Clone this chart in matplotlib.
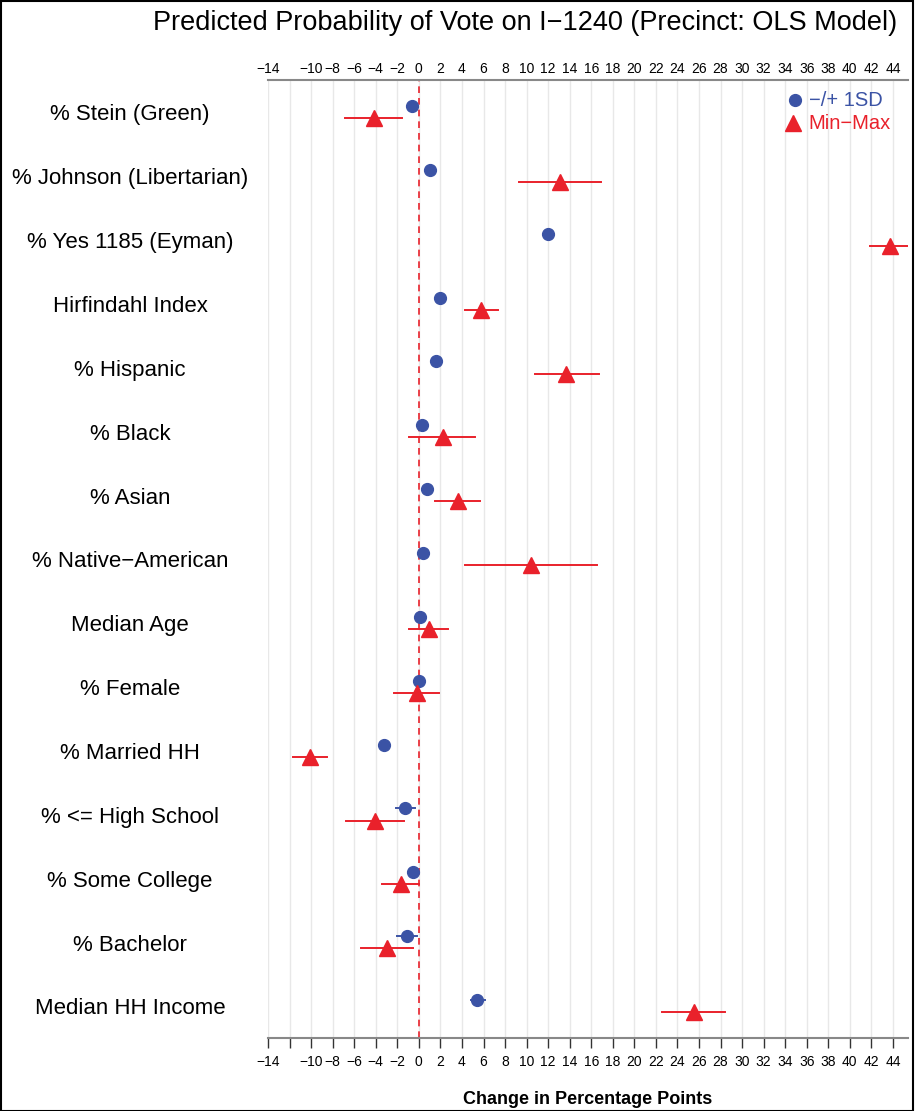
import matplotlib
matplotlib.use('Agg')
import matplotlib.pyplot as plt
from matplotlib.patches import Rectangle

plt.rcParams['font.family'] = ['Liberation Sans', 'DejaVu Sans']

variables = ['% Stein (Green)', '% Johnson (Libertarian)', '% Yes 1185 (Eyman)',
             'Hirfindahl Index', '% Hispanic', '% Black', '% Asian',
             '% Native\u2212American', 'Median Age', '% Female', '% Married HH',
             '% <= High School', '% Some College', '% Bachelor', 'Median HH Income']

# -/+ 1 SD change: estimate, lower, upper
sd_est = [-0.6, 1.0, 12.0, 2.0, 1.6, 0.3, 0.8, 0.4, 0.1, 0.0, -3.2, -1.3, -0.5, -1.1, 5.4]
sd_lo = [-0.8, 0.8, 11.8, 1.5, 1.4, 0.1, 0.6, 0.2, -0.1, -0.2, -3.5, -2.1, -0.7, -2.0, 4.8]
sd_hi = [-0.4, 1.2, 12.2, 2.5, 1.8, 0.5, 1.0, 0.6, 0.3, 0.2, -2.9, -0.4, -0.3, -0.2, 6.1]

# min-max change: estimate, lower, upper
mm_est = [-4.2, 13.1, 43.7, 5.8, 13.7, 2.2, 3.6, 10.4, 0.9, -0.2, -10.1, -4.1, -1.7, -3.0, 25.5]
mm_lo = [-6.9, 9.3, 41.9, 4.3, 10.8, -0.9, 1.5, 4.3, -0.9, -2.3, -11.7, -6.8, -3.4, -5.4, 22.6]
mm_hi = [-1.6, 16.9, 45.5, 7.3, 16.7, 5.2, 5.7, 16.5, 2.7, 1.9, -8.5, -1.4, 0.0, -0.5, 28.4]

ticks = list(range(-14, 46, 2))
tick_labels = ['' if t == -12 else str(t).replace('-', '\u2212') for t in ticks]

blue = '#3B53A5'
red = '#E9212B'

fig = plt.figure(figsize=(9.15, 11.11), dpi=100)
fig.patches.append(Rectangle((0.001, 0.0), 0.997, 0.999, transform=fig.transFigure,
                             fill=False, edgecolor='black', linewidth=1.5))

ax = fig.add_axes([0.2929, 0.0657, 0.6995, 0.8623])
rows = list(range(1, len(variables) + 1))

for t in ticks:
    ax.axvline(t, color='#E8E8E8', linewidth=1.0, zorder=0)
ax.axvline(0, color=red, linestyle=(0, (4, 3)), linewidth=1.2, zorder=1)

# interval bars: sd just above each row, min-max just below
for i, r in enumerate(rows):
    ax.plot([sd_lo[i], sd_hi[i]], [r - 0.11, r - 0.11], color=blue, linewidth=1.4, zorder=2)
    ax.plot([mm_lo[i], mm_hi[i]], [r + 0.08, r + 0.08], color=red, linewidth=1.4, zorder=2)

ax.plot(sd_est, [r - 0.11 for r in rows], 'o', color=blue, markersize=8.5,
        linestyle='none', zorder=3)
ax.plot(mm_est, [r + 0.08 for r in rows], '^', color=red, markersize=11,
        linestyle='none', zorder=3)

ax.set_xlim(-14, 45.4)
ax.set_ylim(15.485, 0.483)
ax.set_yticks([])
for side in ['left', 'right']:
    ax.spines[side].set_visible(False)
for side in ['top', 'bottom']:
    ax.spines[side].set_color('#888888')
    ax.spines[side].set_linewidth(1.5)

ax.set_xticks(ticks)
ax.set_xticklabels(tick_labels, fontsize=10)
ax.tick_params(axis='x', length=7, width=1, color='#333333', pad=5)
ax.set_xlabel('Change in Percentage Points', fontsize=13, fontweight='bold', labelpad=16)

top = ax.secondary_xaxis('top')
top.set_xticks(ticks)
top.set_xticklabels(tick_labels, fontsize=10)
top.tick_params(axis='x', length=0, pad=3)
top.spines['top'].set_visible(False)

# row labels on the left
x_lab = (130 / 915 - 0.2929) / 0.6995
for name, r in zip(variables, rows):
    ax.text(x_lab, r + 0.03, name, transform=ax.get_yaxis_transform(), fontsize=16,
            ha='center', va='center', clip_on=False)

fig.text(0.574, 0.979, 'Predicted Probability of Vote on I\u22121240 (Precinct: OLS Model)',
         fontsize=19.5, ha='center', va='center')

# legend
ax.plot([0.823], [0.979], 'o', color=blue, markersize=8.5, transform=ax.transAxes, clip_on=False)
ax.text(0.845, 0.979, '\u2212/+ 1SD', color=blue, fontsize=14.5, transform=ax.transAxes,
        va='center', ha='left')
ax.plot([0.821], [0.955], '^', color=red, markersize=11, transform=ax.transAxes, clip_on=False)
ax.text(0.845, 0.955, 'Min\u2212Max', color=red, fontsize=14.5, transform=ax.transAxes,
        va='center', ha='left')

fig.savefig('out.png', dpi=100)
